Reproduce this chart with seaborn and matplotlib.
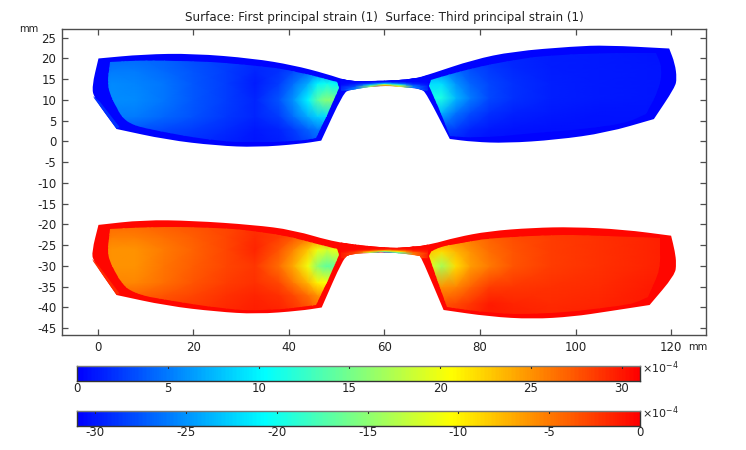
import numpy as np
import matplotlib
matplotlib.use("Agg")
import matplotlib.pyplot as plt
from matplotlib.colors import LinearSegmentedColormap, Normalize
from matplotlib.patches import PathPatch, Polygon
from matplotlib.path import Path
import seaborn as sns

# ---------- data ----------
title_text = "Surface: First principal strain (1)  Surface: Third principal strain (1)"
x_ticks = [0, 20, 40, 60, 80, 100, 120]
y_ticks = [25, 20, 15, 10, 5, 0, -5, -10, -15, -20, -25, -30, -35, -40, -45]
cbar1_ticks = [0, 5, 10, 15, 20, 25, 30]
cbar2_ticks = [-30, -25, -20, -15, -10, -5, 0]

upper_outer_x = [0.2, -1.2, -0.7, 4, 14.5, 24.9, 33.3, 42.4, 46.8, 51.4, 52.8, 58.4, 62, 65, 67.7, 68.8, 73.7, 78.6,
                 85.5, 96, 106.5, 116.4, 120.8, 121.2, 120.8, 119.6, 106.5, 99.5, 86.9, 78.6, 69.8, 66, 60, 52.8,
                 47.9, 40.9, 32.6, 20, 9.6]
upper_outer_y = [20, 13.2, 10.4, 3, 0.4, -1, -1.4, -0.6, 0.2, 11.6, 12.5, 13.4, 13.4, 13, 12.6, 11.6, 0.6, -0.1,
                 -0.4, 0.4, 2.1, 5.4, 13, 15.2, 18.8, 22.4, 23.2, 22.9, 21.7, 19.7, 16.3, 15, 14.6, 14.4,
                 16.3, 18.4, 20, 21.2, 21]
lower_outer_x = [0.2, -1.2, -0.9, 4, 14.5, 24.9, 33.3, 42.4, 46.9, 51.4, 52.8, 58.4, 60, 64.7, 67.4, 68, 72.4, 82,
                 91, 99.5, 106.5, 115.5, 120.8, 121.1, 120.8, 120, 110, 99.5, 91, 81.9, 75, 69.8, 65.4, 60, 50,
                 40.9, 32.6, 20, 9.6]
lower_outer_y = [-20.1, -26.5, -28.9, -37, -39.6, -41, -41.6, -40.8, -40, -28.2, -27.1, -26.8, -26.7, -27, -27.6,
                 -28.6, -40.6, -42.2, -42.8, -42.2, -41, -39.4, -32.2, -29.4, -26.5, -22.7, -21.2, -20.6, -20.8,
                 -21.6, -23.1, -24.8, -25.5, -25.7, -24.4, -21.3, -20.1, -19.1, -18.9]

upper_left_x = [2.6, 2, 3, 5, 7.5, 14.5, 24.9, 33, 41, 45.8, 50.6, 50, 42.4, 31.9, 21.4, 10.9]
upper_left_y = [19.1, 14.8, 10, 6, 3.8, 2, 0, -0.2, 0, 0.8, 12.8, 14.4, 16.8, 18.4, 19.4, 19.6]
upper_right_x = [69.8, 69.3, 73.8, 78.6, 91.2, 102.2, 110, 114.8, 117.7, 118, 116.8, 106.5, 96, 87, 78.6, 71]
upper_right_y = [14.8, 13.4, 1.2, 0.8, 2, 3, 4.3, 6.5, 13.2, 18, 21.4, 21.3, 20.9, 19.7, 17.6, 15.4]
lower_left_x = [2.6, 2, 3, 5, 7.5, 14.5, 24.9, 35.4, 45.8, 50.6, 50, 46.7, 35.4, 21.4, 10.9]
lower_left_y = [-21, -25.8, -30.2, -34.2, -36.6, -38.2, -40.2, -40.8, -39.4, -27.3, -26, -24.9, -21.7, -20.7, -20.5]
lower_right_x = [70.4, 69.3, 73.2, 82, 92.5, 102.9, 111.3, 115.2, 117.8, 117.6, 106.5, 92.5, 82, 75]
lower_right_y = [-25.9, -27.6, -39.9, -41.4, -41.6, -40.6, -39.4, -37.4, -31, -23.3, -22.8, -22.5, -23.3, -24.6]

left_nodes_x = [0, 3, 8, 14, 20, 27, 33, 38, 41, 44, 46, 48, 50, 52]
right_nodes_x = [66, 69, 72, 75, 78, 82, 87, 95, 105, 115, 123]
bridge_nodes_x = [51, 54, 57, 60, 63, 66, 69]

upper_left_y_nodes = [-2, 3, 6, 10, 14, 17, 21]
upper_left_vals = [
    [2, 2, 2.2, 2, 1.5, 1, 0.8, 1, 1.5, 2, 3, 3, 3, 3],
    [3.5, 3.5, 3.5, 3, 2.5, 1.8, 1, 1.5, 2.5, 4, 5, 5, 5, 5],
    [5, 5, 5, 4.2, 3.3, 2.2, 1.5, 2.5, 4.5, 7, 8.5, 9, 9, 9],
    [5.2, 5.8, 5.6, 4.8, 3.6, 2.5, 1.5, 3.5, 6, 10, 14, 16, 15, 14],
    [5.2, 5.6, 5.4, 4.8, 3.6, 2.5, 1.2, 2.5, 4.5, 7, 10, 11, 10, 10],
    [4.5, 5, 5, 4.3, 3.4, 2.5, 1.5, 2, 3, 4, 5, 5, 5, 5],
    [3.5, 4, 4, 3.8, 3, 2.5, 2, 2, 2.5, 3, 3, 3, 3, 3],
]
upper_right_y_nodes = [-1, 3, 7, 10.5, 14, 18, 23]
upper_right_vals = [
    [1, 1, 1, 1, 0.8, 0.6, 0.5, 0.5, 0.5, 0.5, 0.5],
    [2, 2.5, 3, 2.5, 1.5, 1, 0.8, 0.7, 0.7, 0.7, 0.7],
    [5, 7, 7.5, 4.8, 3.2, 2, 1.4, 1, 0.8, 0.8, 0.7],
    [8, 11, 11.5, 7.5, 5, 3, 2, 1.3, 1, 0.9, 0.8],
    [6, 9, 9, 6, 4, 2.8, 2, 1.3, 1, 0.9, 0.8],
    [3, 4.5, 4.5, 3.8, 3, 2.2, 1.6, 1.2, 1, 0.9, 0.8],
    [2, 2.5, 2.5, 2.5, 2, 1.8, 1.4, 1.1, 1, 0.8, 0.7],
]
lower_left_y_nodes = [-42, -37, -34, -30, -26, -23, -19]
lower_left_vals = [
    [-3, -3, -2.8, -2.3, -2, -1.5, -1.2, -1.3, -1.8, -2.5, -3.5, -4, -4, -4],
    [-4, -4, -4, -3.4, -2.8, -2, -1.5, -2, -3, -4.5, -6, -7, -7, -7],
    [-5, -5.5, -5.5, -4.5, -3.5, -2.5, -2, -3, -5, -7.5, -10, -10.5, -10, -9],
    [-5.5, -6, -6, -4.8, -3.8, -2.8, -2.2, -4.5, -7, -11, -15, -17, -16, -14],
    [-5.5, -6, -6, -5, -4, -2.8, -1.5, -3.5, -5.5, -8, -11, -12, -11, -10],
    [-4.5, -5.2, -5.2, -4.6, -3.8, -2.8, -1.8, -2.5, -3.5, -4.5, -5.5, -5.5, -5, -5],
    [-3.5, -4, -4, -3.6, -3.2, -2.8, -2.2, -2.5, -3, -3, -3, -3, -3, -3],
]
lower_right_y_nodes = [-43, -39, -35, -30, -26.5, -23.5, -20]
lower_right_vals = [
    [-2, -2, -2, -2, -1.5, -1, -1.2, -1.5, -1.2, -1, -1],
    [-3, -3, -3.5, -3, -2.2, -1.2, -1.5, -1.8, -1.5, -1, -0.8],
    [-5, -5, -6, -5.5, -4, -2.5, -2.2, -2, -1.8, -1.2, -1],
    [-9, -11, -14, -9, -6.5, -5, -3.5, -2.5, -2, -1.5, -1],
    [-7, -8, -9, -7.5, -6, -4.5, -3.5, -2.5, -2, -1.5, -1],
    [-5, -6, -6, -5.5, -5, -4, -3.2, -2.5, -2, -1.5, -1],
    [-3, -3.5, -3.5, -3.5, -3.5, -3, -2.5, -2.2, -1.8, -1.4, -1],
]
upper_bridge_y_nodes = [12.4, 13.4, 13.7, 14.0, 14.4, 15, 17]
upper_bridge_vals = [
    [2, 6, 16, 28, 20, 6, 2],
    [1, 3, 16, 28, 20, 5, 1],
    [0.5, 2, 8, 20, 12, 3, 0.8],
    [0.3, 1, 3, 9, 5, 1.5, 0.5],
    [0.3, 0.3, 0.3, 0.5, 0.5, 0.3, 0.3],
    [0.2, 0.2, 0.2, 0.2, 0.2, 0.2, 0.2],
    [0.2, 0.2, 0.2, 0.2, 0.2, 0.2, 0.2],
]
lower_bridge_y_nodes = [-28, -26.8, -26.5, -26.2, -25.9, -25.4, -23]
lower_bridge_vals = [
    [-1, -4, -14, -28, -18, -5, -1.5],
    [-1, -3, -14, -28, -18, -5, -1.5],
    [-0.6, -2, -8, -17, -10, -3, -1],
    [-0.4, -1, -3, -8, -5, -1.5, -0.8],
    [-0.3, -0.3, -0.5, -1, -1, -0.5, -0.5],
    [-0.3, -0.3, -0.3, -0.3, -0.3, -0.3, -0.3],
    [-0.3, -0.3, -0.3, -0.3, -0.3, -0.3, -0.3],
]
upper_frame_value = 0.2
lower_frame_value = -0.3
upper_edge_x = [-0.9, 0.4, 4.6, 4, -0.7]
upper_edge_y = [10.9, 9.7, 3.5, 3, 10.4]
upper_edge_value = 2
lower_edge_x = [-1.1, 0.4, 4.6, 4, -0.9]
lower_edge_y = [-28.3, -30.2, -36.6, -37, -28.9]
lower_edge_value = -1.8
field_max = 31

# ---------- style ----------
sns.set_theme(style="white")
plt.rcParams["font.family"] = ["DejaVu Sans"]
W, H = 746, 450
TXT = "#222222"
EDGE = "#4d4d4d"
rainbow = LinearSegmentedColormap.from_list(
    "rb", [(0, (0, 0, 1)), (0.333, (0, 1, 1)), (0.665, (1, 1, 0)), (1, (1, 0, 0))])

fig = plt.figure(figsize=(W / 100, H / 100), dpi=100, facecolor="white")


def px_axes(x0, y0, x1, y1):
    return fig.add_axes([x0 / W, 1 - y1 / H, (x1 - x0) / W, (y1 - y0) / H])


def rounded_path(xs, ys, corner_deg=40):
    """Closed outline: corners stay sharp, gentle bends are drawn as curves."""
    p = np.column_stack([xs, ys]).astype(float)
    n = len(p)
    scale = np.array([4.78, 4.15])
    mids = (p + np.roll(p, -1, axis=0)) / 2
    verts = [mids[-1]]
    codes = [Path.MOVETO]
    for i in range(n):
        a = (p[i] - p[i - 1]) * scale
        b = (p[(i + 1) % n] - p[i]) * scale
        turn = abs((np.degrees(np.arctan2(b[1], b[0]) - np.arctan2(a[1], a[0])) + 180) % 360 - 180)
        verts += [p[i], mids[i]]
        if turn > corner_deg:
            codes += [Path.LINETO, Path.LINETO]
        else:
            codes += [Path.CURVE3, Path.CURVE3]
    verts.append(verts[0])
    codes.append(Path.CLOSEPOLY)
    return Path(verts, codes)


ax = px_axes(62, 29, 706, 335.3)
ax.set_xlim(-7.43, 127.3)
ax.set_ylim(-46.7, 27.1)
ax.set_xticks(x_ticks)
ax.set_yticks(y_ticks)
ax.tick_params(direction="in", length=4, width=0.9, color=EDGE, top=True, right=True, left=True, bottom=True,
               labelsize=8.5, labelcolor=TXT, pad=4)
ax.set_yticklabels([str(t) for t in y_ticks], fontsize=8.5)
for s in ax.spines.values():
    s.set_visible(True)
    s.set_color(EDGE)
    s.set_linewidth(1.0)


def draw_lens(outer_x, outer_y, frame_value, edge_x, edge_y, edge_value, norm, bridge, lenses):
    outer = PathPatch(rounded_path(outer_x, outer_y), fc=rainbow(norm(frame_value)), ec="none", zorder=1)
    ax.add_patch(outer)
    ax.add_patch(Polygon(np.column_stack([edge_x, edge_y]), closed=True, fc=rainbow(norm(edge_value)), ec="none", zorder=1.2))
    bx, by, bv = bridge
    m = ax.pcolormesh(bx, by, np.array(bv), shading="gouraud", cmap=rainbow, norm=norm, zorder=1.5)
    m.set_clip_path(outer)
    for (px, py, gx, gy, gv) in lenses:
        patch = PathPatch(rounded_path(px, py), fc="none", ec="none", zorder=2)
        ax.add_patch(patch)
        m = ax.pcolormesh(gx, gy, np.array(gv), shading="gouraud", cmap=rainbow, norm=norm, zorder=2)
        m.set_clip_path(patch)


norm_up = Normalize(0, field_max)
norm_lo = Normalize(-field_max, 0)
draw_lens(upper_outer_x, upper_outer_y, upper_frame_value, upper_edge_x, upper_edge_y, upper_edge_value, norm_up,
          (bridge_nodes_x, upper_bridge_y_nodes, upper_bridge_vals),
          [(upper_left_x, upper_left_y, left_nodes_x, upper_left_y_nodes, upper_left_vals),
           (upper_right_x, upper_right_y, right_nodes_x, upper_right_y_nodes, upper_right_vals)])
draw_lens(lower_outer_x, lower_outer_y, lower_frame_value, lower_edge_x, lower_edge_y, lower_edge_value, norm_lo,
          (bridge_nodes_x, lower_bridge_y_nodes, lower_bridge_vals),
          [(lower_left_x, lower_left_y, left_nodes_x, lower_left_y_nodes, lower_left_vals),
           (lower_right_x, lower_right_y, right_nodes_x, lower_right_y_nodes, lower_right_vals)])

fig.text(384 / W, 1 - 17 / H, title_text, ha="center", va="center", fontsize=8.6, color=TXT)
fig.text(29 / W, 1 - 29 / H, "mm", ha="center", va="center", fontsize=7.2, color=TXT)
fig.text(698 / W, 1 - 346.5 / H, "mm", ha="center", va="center", fontsize=7.2, color=TXT)


def colour_bar(y0, y1, lo, hi, ticks, pad):
    cax = px_axes(77, y0, 640, y1)
    ramp = np.linspace(lo, hi, 400).reshape(1, -1)
    sns.heatmap(ramp, ax=cax, cmap=rainbow, vmin=lo, vmax=hi, cbar=False, xticklabels=False, yticklabels=False)
    cax.set_xticks([(t - lo) / (hi - lo) * 400 for t in ticks])
    cax.set_xticklabels([str(t) for t in ticks], fontsize=8.5, color=TXT)
    cax.tick_params(axis="x", direction="in", length=0, pad=pad, labelsize=8.5, bottom=True)
    for t in ticks:
        cax.plot([(t - lo) / (hi - lo) * 400] * 2, [0, 0.14], color="#222222", lw=0.8, clip_on=True)
    cax.set_yticks([])
    for s in cax.spines.values():
        s.set_visible(True)
        s.set_color("#333333")
        s.set_linewidth(1.0)
    cax.spines["top"].set_color("#777777")
    fig.text(642 / W, 1 - (y0 + 2) / H, "×10$^{-4}$", ha="left", va="center", fontsize=8, color=TXT)


colour_bar(366, 380.5, 0, 31, cbar1_ticks, 1)
colour_bar(411, 426, -31, 0, cbar2_ticks, 0)

fig.savefig("out.png", dpi=100, facecolor="white")
